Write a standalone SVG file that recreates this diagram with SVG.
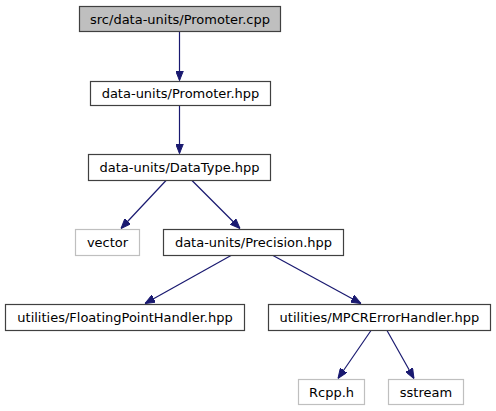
<svg xmlns="http://www.w3.org/2000/svg" width="496" height="411" viewBox="0 0 496 411">
<style>
.n rect{fill:#ffffff;stroke:#404040;stroke-width:1.2}
.g rect{fill:#ffffff;stroke:#bfbfbf;stroke-width:1.2}
.root rect{fill:#bfbfbf;stroke:#404040;stroke-width:1.2}
text{font-family:"DejaVu Sans",sans-serif;font-size:13px;fill:#000000;text-anchor:middle}
.e{stroke:#191970;stroke-width:1.2;fill:none;marker-end:url(#ah)}
</style>
<defs>
<marker id="ah" viewBox="0 0 10 8" refX="10" refY="4" markerWidth="10" markerHeight="8" markerUnits="userSpaceOnUse" orient="auto">
<path d="M0,0 L10,4 L0,8 Z" fill="#191970" stroke="#191970"/>
</marker>
</defs>
<rect width="496" height="411" fill="#ffffff"/>
<g id="connectors">
<line class="e" x1="179.5" y1="31.5" x2="179.5" y2="80.5"/>
<line class="e" x1="179.5" y1="105.5" x2="179.5" y2="153.5"/>
<line class="e" x1="166" y1="180.5" x2="121" y2="228.5"/>
<line class="e" x1="192" y1="180.5" x2="240" y2="228.5"/>
<line class="e" x1="231" y1="255.5" x2="145" y2="303.5"/>
<line class="e" x1="273" y1="255.5" x2="361" y2="303.5"/>
<line class="e" x1="371" y1="330.5" x2="338" y2="378.5"/>
<line class="e" x1="387" y1="330.5" x2="414" y2="378.5"/>
</g>
<g id="node1" class="root"><rect x="79.5" y="6.5" width="201" height="25"/><text x="180" y="23.5">src/data-units/Promoter.cpp</text></g>
<g id="node2" class="n"><rect x="90.5" y="81.5" width="180" height="24"/><text x="180.5" y="98">data-units/Promoter.hpp</text></g>
<g id="node3" class="n"><rect x="88.5" y="154.5" width="182" height="26"/><text x="179.5" y="172">data-units/DataType.hpp</text></g>
<g id="node4" class="g"><rect x="75.5" y="229.5" width="64" height="26"/><text x="107.5" y="247">vector</text></g>
<g id="node5" class="n"><rect x="163.5" y="229.5" width="180" height="26"/><text x="253.5" y="247">data-units/Precision.hpp</text></g>
<g id="node6" class="n"><rect x="5.5" y="304.5" width="239" height="26"/><text x="125" y="322">utilities/FloatingPointHandler.hpp</text></g>
<g id="node7" class="n"><rect x="268.5" y="304.5" width="222" height="26"/><text x="379.5" y="322">utilities/MPCRErrorHandler.hpp</text></g>
<g id="node8" class="g"><rect x="298.5" y="379.5" width="66" height="25"/><text x="331.5" y="396.5">Rcpp.h</text></g>
<g id="node9" class="g"><rect x="388.5" y="379.5" width="75" height="25"/><text x="426" y="396.5">sstream</text></g>
</svg>
